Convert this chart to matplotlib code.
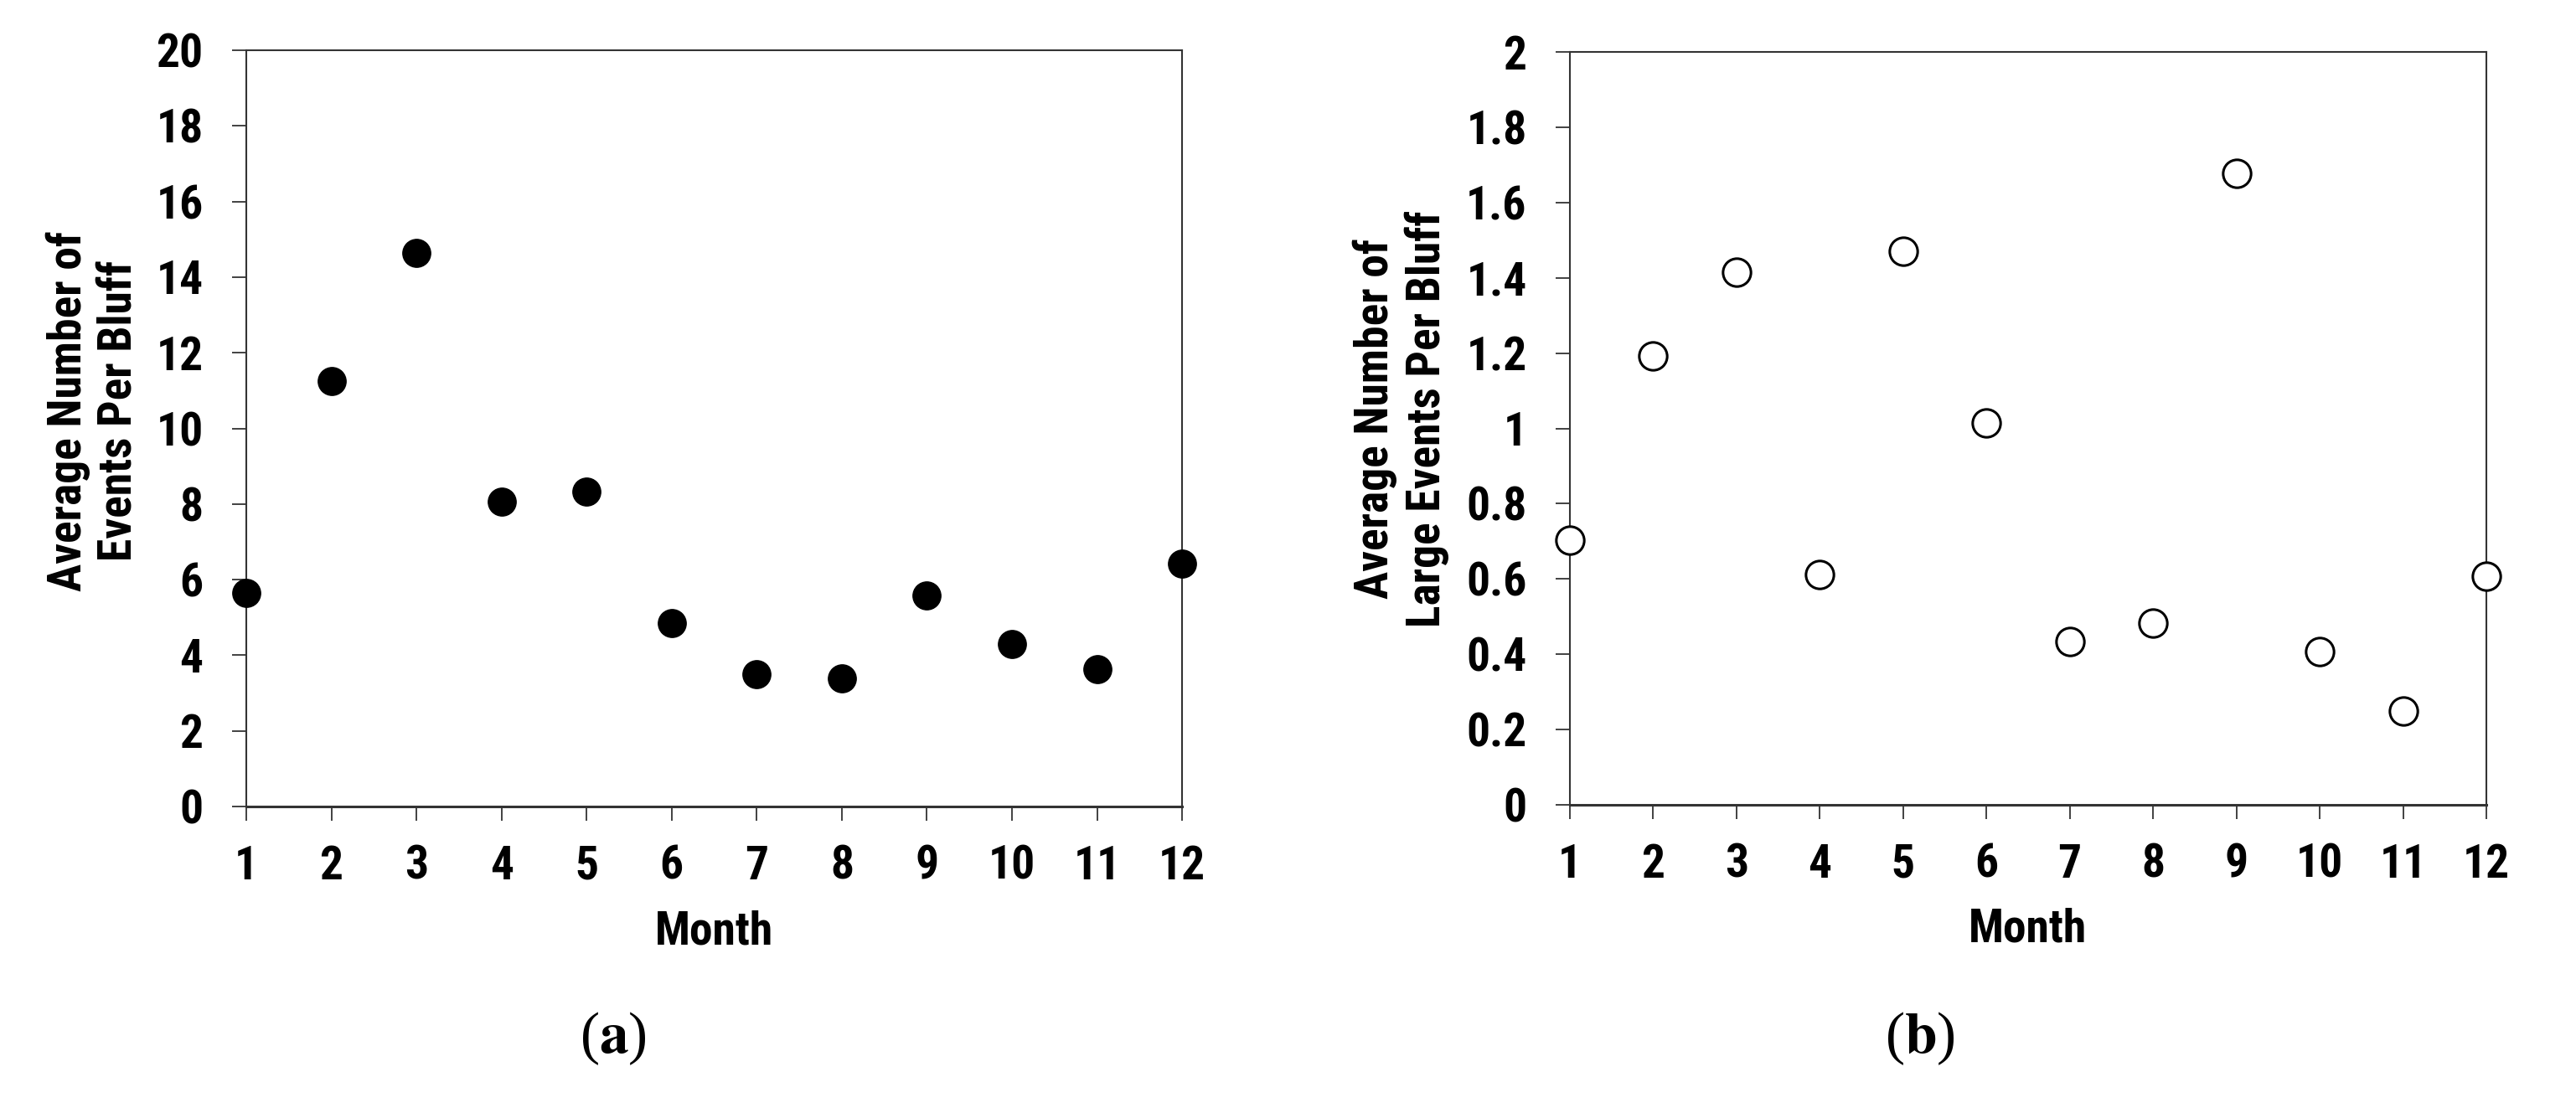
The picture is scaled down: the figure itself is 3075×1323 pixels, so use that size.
import matplotlib
matplotlib.use("Agg")
import matplotlib.pyplot as plt
from matplotlib import font_manager

# narrow Arial-like face: take the first one installed
names = {f.name for f in font_manager.fontManager.ttflist}
candidates = ['Liberation Sans Narrow', 'Arial Narrow', 'Roboto Condensed', 'Archivo Narrow',
              'PT Sans Narrow', 'Fira Sans Condensed', 'IBM Plex Sans Condensed', 'Liberation Sans']
SANS = next(c for c in candidates if c in names)

months = [1, 2, 3, 4, 5, 6, 7, 8, 9, 10, 11, 12]
events_all = [5.65, 11.25, 14.65, 8.07, 8.33, 4.86, 3.51, 3.38, 5.58, 4.30, 3.64, 6.42]
events_large = [0.703, 1.193, 1.414, 0.612, 1.471, 1.015, 0.434, 0.482, 1.677, 0.408, 0.250, 0.607]

yticks_a = [0, 2, 4, 6, 8, 10, 12, 14, 16, 18, 20]
yticks_b = [0, 0.2, 0.4, 0.6, 0.8, 1, 1.2, 1.4, 1.6, 1.8, 2]
ylabels_b = ['0', '0.2', '0.4', '0.6', '0.8', '1', '1.2', '1.4', '1.6', '1.8', '2']

plt.rcParams['font.family'] = [SANS, 'DejaVu Sans']
plt.rcParams['font.weight'] = 'bold'
plt.rcParams['axes.labelweight'] = 'bold'
plt.rcParams['mathtext.fontset'] = 'stix'

FS = 40
SPINE = '#333333'

fig = plt.figure(figsize=(30.75, 13.23), dpi=100)
ax1 = fig.add_axes([0.0956, 0.2721, 0.3633, 0.6825])
ax2 = fig.add_axes([0.6094, 0.2736, 0.3558, 0.6795])


def style(ax):
    for s in ax.spines.values():
        s.set_color(SPINE)
        s.set_linewidth(1.5)
        s.set_zorder(1)
    ax.spines['bottom'].set_linewidth(2.2)
    ax.tick_params(axis='both', direction='out', length=12, width=1.3, color=SPINE,
                   labelsize=FS)
    ax.tick_params(axis='y', pad=25)
    ax.tick_params(axis='x', pad=21)
    ax.set_xlim(1, 12)
    ax.set_xticks(months)
    ax.set_xticklabels([str(m) for m in months])


# (a) all events
ax1.plot(months, events_all, 'o', color='black', markersize=24, clip_on=False, zorder=5)
ax1.set_ylim(0, 20)
ax1.set_yticks(yticks_a)
ax1.set_yticklabels([str(v) for v in yticks_a])
style(ax1)
ax1.set_xlabel('Month', fontsize=FS, fontweight='bold')
ax1.xaxis.set_label_coords(0.5, -0.166)
ax1.xaxis.label.set_verticalalignment('center')
ax1.set_ylabel('Average Number of\nEvents Per Bluff', fontsize=FS, fontweight='bold')
ax1.yaxis.set_label_coords((111 - 294) / 1117, 0.523)
ax1.yaxis.label.set_verticalalignment('center')

# (b) large events
ax2.plot(months, events_large, 'o', markerfacecolor='white', markeredgecolor='black',
         markeredgewidth=2.2, markersize=24, clip_on=False, zorder=5)
ax2.set_ylim(0, 2)
ax2.set_yticks(yticks_b)
ax2.set_yticklabels(ylabels_b)
style(ax2)
ax2.set_xlabel('Month', fontsize=FS, fontweight='bold')
ax2.xaxis.set_label_coords(0.5, -0.165)
ax2.xaxis.label.set_verticalalignment('center')
ax2.set_ylabel('Average Number of\nLarge Events Per Bluff', fontsize=FS, fontweight='bold')
ax2.yaxis.set_label_coords((1672 - 1874) / 1094, 0.513)
ax2.yaxis.label.set_verticalalignment('center')

# panel captions
fig.text(732 / 3075, 1 - 1240 / 1323, r'($\mathbf{a}$)', fontsize=50, family='Liberation Serif',
         fontweight='normal', ha='center', va='center')
fig.text(2292 / 3075, 1 - 1240 / 1323, r'($\mathbf{b}$)', fontsize=50, family='Liberation Serif',
         fontweight='normal', ha='center', va='center')

fig.savefig('out.png', dpi=100, facecolor='white')
